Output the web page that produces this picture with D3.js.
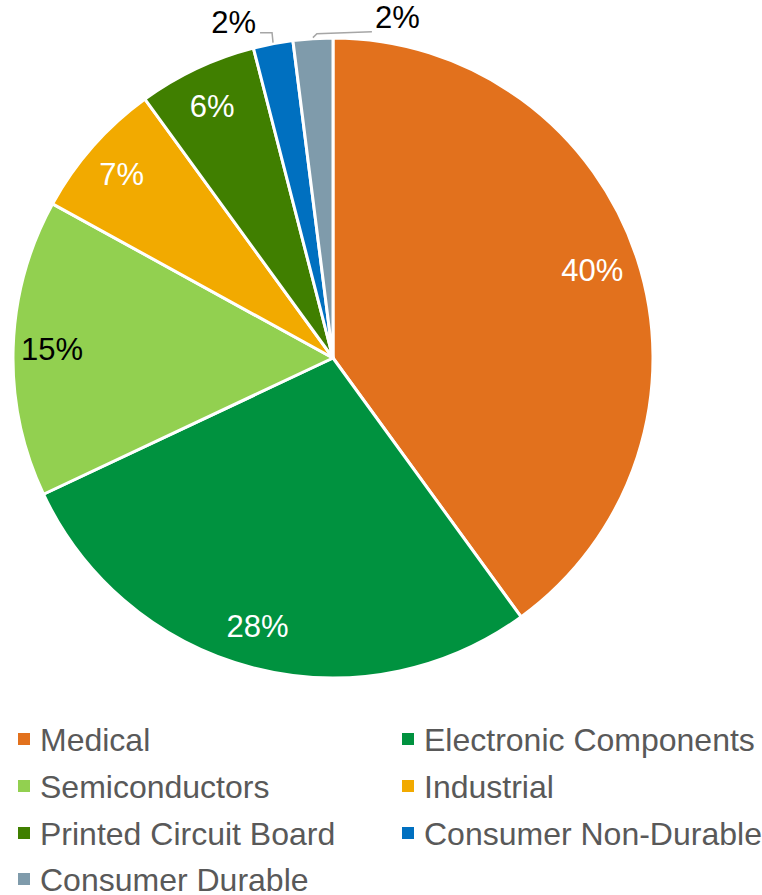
<!DOCTYPE html>
<html><head><meta charset="utf-8">
<script src="https://cdn.jsdelivr.net/npm/d3@7"></script>
<style>html,body{margin:0;padding:0;background:#fff;}</style>
</head><body>
<svg id="chart" width="762" height="895"></svg>
<script>
const categories = ["Medical","Electronic Components","Semiconductors","Industrial","Printed Circuit Board","Consumer Non-Durable","Consumer Durable"];
const values = [40, 28, 15, 7, 6, 2, 2];
const colors = ["#E2711D","#00923F","#92D050","#F2AA00","#407F00","#0070C0","#7F9BAB"];
const labelColors = ["#fff","#fff","#000","#fff","#fff","#000","#000"];

const svg = d3.select("#chart");
const cx = 333, cy = 358, R = 320, rLabel = 279;
const font = "'Liberation Sans', Arial, sans-serif";
const fs = 31, legendFs = 32;

const data = categories.map((c,i)=>({cat:c, value:values[i], color:colors[i], lc:labelColors[i]}));
const pie = d3.pie().value(d=>d.value).sort(null);
const arcs = pie(data);
const arc = d3.arc().innerRadius(0).outerRadius(R);
const labelArc = d3.arc().innerRadius(rLabel).outerRadius(rLabel);
const outerArc = d3.arc().innerRadius(R).outerRadius(R);

const g = svg.append("g").attr("transform",`translate(${cx},${cy})`);
g.selectAll("path.slice").data(arcs).join("path")
  .attr("class","slice")
  .attr("d",arc).attr("fill",d=>d.data.color)
  .attr("stroke","#fff").attr("stroke-width",3).attr("stroke-linejoin","round");

// inside labels
g.selectAll("text.in").data(arcs.filter(d=>d.data.value>=5)).join("text")
  .attr("class","in")
  .attr("transform",d=>{ const [x,y]=labelArc.centroid(d); return d.data.value>=28?`translate(${x-6},${y-2})`:`translate(${x-2},${y})`; })
  .attr("text-anchor","middle").attr("dy","0.36em")
  .attr("font-family",font).attr("font-size",fs)
  .attr("fill",d=>d.data.lc)
  .text(d=>d.data.value+"%");

// outside labels with leaders
const small = arcs.filter(d=>d.data.value<5);
small.forEach((d,i)=>{
  const [ox,oy] = outerArc.centroid(d);
  let pts, tx, ty, anchor;
  if(i===0){
    pts = [[ox,oy-1],[ox-1,oy-11],[ox-13,oy-11]];
    tx = ox-17; ty = oy-22; anchor="end";
  } else {
    pts = [[ox,oy-1],[ox+4,oy-5],[ox+59,oy-7]];
    tx = ox+62; ty = oy-22; anchor="start";
  }
  g.append("polyline").attr("points",pts.map(p=>p.join(",")).join(" "))
    .attr("fill","none").attr("stroke","#A6A6A6").attr("stroke-width",1.5);
  g.append("text").attr("x",tx).attr("y",ty).attr("dy","0.36em")
    .attr("text-anchor",anchor).attr("font-family",font).attr("font-size",fs)
    .attr("fill","#000").text(d.data.value+"%");
});

// legend
const legend = svg.append("g");
const colX = [18, 402], rowY = [739, 786, 833, 879];
data.forEach((d,i)=>{
  const x = colX[i%2], y = rowY[Math.floor(i/2)];
  const lg = legend.append("g").attr("transform",`translate(${x},${y})`);
  lg.append("rect").attr("x",0).attr("y",-6).attr("width",12).attr("height",12).attr("fill",d.color);
  lg.append("text").attr("x",22).attr("y",0).attr("dy","0.36em")
    .attr("font-family",font).attr("font-size",legendFs).attr("fill","#595959").text(d.cat);
});
</script>
</body></html>
